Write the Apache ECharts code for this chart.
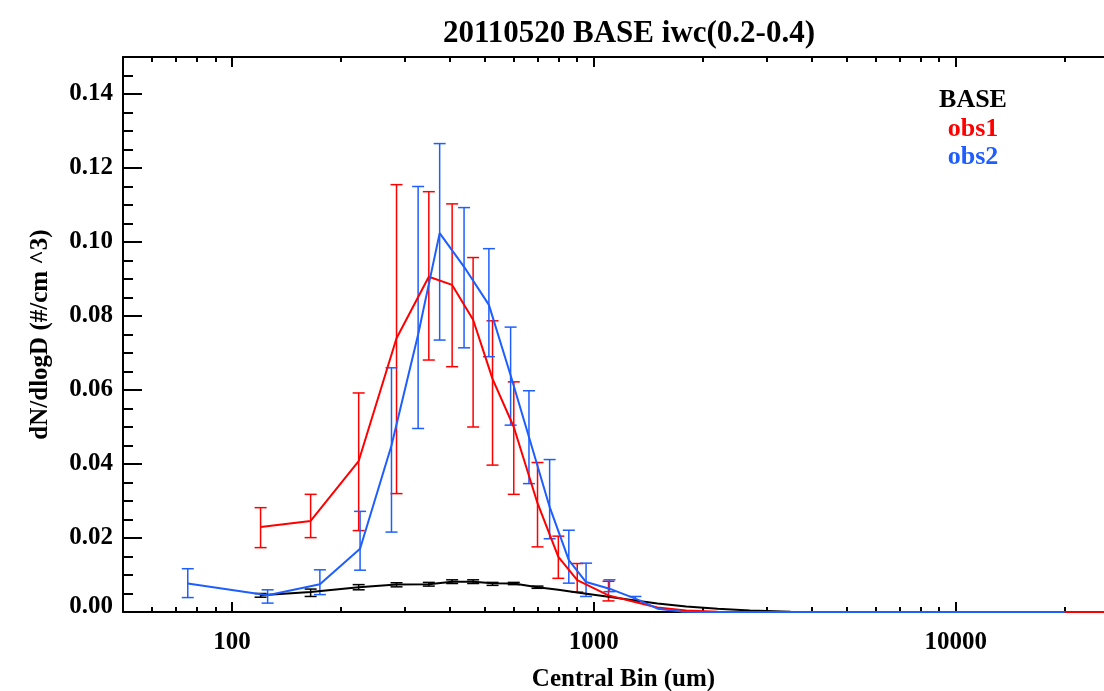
<!DOCTYPE html>
<html><head><meta charset="utf-8">
<script src="https://cdn.jsdelivr.net/npm/echarts@6/dist/echarts.min.js"></script>
<style>html,body{margin:0;padding:0;background:#fff}#c{width:1104px;height:691px}</style>
</head><body><div id="c"></div>
<script>
// ---- text ----
const chartTitle = '20110520 BASE iwc(0.2-0.4)';
const xName = 'Central Bin (um)';
const yName = 'dN/dlogD (#/cm ^3)';
const legendNames = ['BASE', 'obs1', 'obs2'];

// ---- ticks ----
const xMajorTicks = [100, 1000, 10000];
const xMinorTicks = [60, 70, 80, 90, 200, 300, 400, 500, 600, 700, 800, 900,
  2000, 3000, 4000, 5000, 6000, 7000, 8000, 9000, 20000];
const yMajorTicks = [0, 0.02, 0.04, 0.06, 0.08, 0.10, 0.12, 0.14];
const yMinorTicks = [0.005, 0.01, 0.015, 0.025, 0.03, 0.035, 0.045, 0.05, 0.055,
  0.065, 0.07, 0.075, 0.085, 0.09, 0.095, 0.105, 0.11, 0.115, 0.125, 0.13, 0.135, 0.145];

// ---- obs1 (red) ----
const obs1X  = [120, 165, 224, 285, 350, 406, 464, 525, 601, 699, 798, 900, 1098, 1300, 1500, 1800, 2200, 2700, 3500, 5000, 8000, 12000, 18000, 25700];
const obs1Y  = [0.0230, 0.0246, 0.0408, 0.0740, 0.0906, 0.0884, 0.0790, 0.0630, 0.0500, 0.0294, 0.0149, 0.0086, 0.0045, 0.0027, 0.0012, 0.0004, 0.0001, 0, 0, 0, 0, 0, 0, 0];
const obs1Lo = [0.0174, 0.0201, 0.0220, 0.0320, 0.0681, 0.0663, 0.0500, 0.0397, 0.0318, 0.0176, 0.0091, 0.0054, 0.0030];
const obs1Hi = [0.0282, 0.0318, 0.0592, 0.1155, 0.1136, 0.1103, 0.0958, 0.0787, 0.0622, 0.0404, 0.0205, 0.0131, 0.0083];

// ---- obs2 (blue) ----
const obs2X  = [75.5, 125.5, 175, 226, 276, 327, 375, 438, 513, 589, 662, 755, 853, 952, 1105, 1303, 1500, 1750, 2000, 3000, 5000, 8000, 12000, 20000];
const obs2Y  = [0.0077, 0.0045, 0.0075, 0.0171, 0.0450, 0.0750, 0.1024, 0.0933, 0.0830, 0.0640, 0.0473, 0.0284, 0.0140, 0.0081, 0.0063, 0.0036, 0.0009, 0.0001, 0, 0, 0, 0, 0, 0];
const obs2Lo = [0.0039, 0.0024, 0.0047, 0.0113, 0.0216, 0.0496, 0.0735, 0.0714, 0.0690, 0.0505, 0.0347, 0.0198, 0.0078, 0.0042, 0.0055, 0.0031];
const obs2Hi = [0.0117, 0.0060, 0.0114, 0.0272, 0.0660, 0.1150, 0.1266, 0.1093, 0.0982, 0.0770, 0.0598, 0.0412, 0.0221, 0.0132, 0.0087, 0.0042];

// ---- BASE (black) ----
const baseX  = obs1X;
const baseY  = [0.0045, 0.0054, 0.0067, 0.0074, 0.0075, 0.0082, 0.0082, 0.0078, 0.0077, 0.0067, 0.0060, 0.0053, 0.0041, 0.0031, 0.0023, 0.0015, 0.0009, 0.0004, 0.0001, 0, 0, 0, 0, 0];
const baseLo = [0.0040, 0.0042, 0.0060, 0.0068, 0.0070, 0.0077, 0.0077, 0.0072, 0.0074, 0.0064];
const baseHi = [0.0050, 0.0062, 0.0074, 0.0079, 0.0080, 0.0087, 0.0087, 0.0080, 0.0080, 0.0070];

const RED = '#ff0000', BLUE = '#1e5eff', BLACK = '#000000';
const FONT = '"Liberation Serif", "Times New Roman", serif';

function pairs(xs, ys) { return xs.map((x, i) => [x, ys[i]]); }
function errs(xs, lo, hi) { return lo.map((l, i) => [xs[i], l, hi[i]]); }

function errSeries(data, color) {
  return {
    type: 'custom', xAxisIndex: 0, yAxisIndex: 0, data: data, silent: true, z: 3,
    encode: { x: 0, y: [1, 2] },
    renderItem: function (params, api) {
      const x = api.value(0);
      const lo = api.coord([x, api.value(1)]);
      const hi = api.coord([x, api.value(2)]);
      const w = 6;
      const st = { stroke: color, lineWidth: 1.5 };
      return { type: 'group', children: [
        { type: 'line', shape: { x1: lo[0], y1: lo[1], x2: hi[0], y2: hi[1] }, style: st },
        { type: 'line', shape: { x1: lo[0] - w, y1: lo[1], x2: lo[0] + w, y2: lo[1] }, style: st },
        { type: 'line', shape: { x1: hi[0] - w, y1: hi[1], x2: hi[0] + w, y2: hi[1] }, style: st }
      ]};
    }
  };
}

const labelStyle = { fontFamily: FONT, fontWeight: 'bold', fontSize: 25, color: '#000' };

function xAxisDef(pos, ticks, len, showLine, showLabel) {
  return {
    type: 'log', logBase: 10, min: 50, max: 25700, position: pos,
    axisLine: { show: showLine, lineStyle: { color: '#000', width: 2 } },
    axisTick: { show: true, inside: true, length: len, customValues: ticks, lineStyle: { color: '#000', width: 2 } },
    axisLabel: showLabel ? Object.assign({ customValues: ticks, margin: 18, formatter: v => String(Math.round(v)) }, labelStyle) : { show: false },
    splitLine: { show: false }, minorTick: { show: false }
  };
}

const chart = echarts.init(document.getElementById('c'), null, { renderer: 'canvas' });
const xMain = xAxisDef('bottom', xMajorTicks, 10, true, true);
xMain.name = xName;
xMain.nameLocation = 'middle';
xMain.nameGap = 55;
xMain.nameTextStyle = { fontFamily: FONT, fontWeight: 'bold', fontSize: 25, color: '#000', padding: [0, 0, 0, 20] };

const legendYs = [100, 129, 157];
const legendColors = [BLACK, RED, BLUE];

chart.setOption({
  animation: false,
  backgroundColor: '#fff',
  title: {
    text: chartTitle, left: 624, top: 13, textAlign: 'center',
    textStyle: { fontFamily: FONT, fontWeight: 'bold', fontSize: 31, color: '#000' }
  },
  grid: { left: 123, top: 57, right: 0, bottom: 79, containLabel: false, outerBoundsMode: 'none' },
  xAxis: [
    xMain,
    xAxisDef('bottom', xMinorTicks, 5, false, false),
    xAxisDef('top', xMajorTicks, 10, true, false),
    xAxisDef('top', xMinorTicks, 5, false, false)
  ],
  yAxis: [
    {
      type: 'value', min: 0, max: 0.15, position: 'left',
      name: yName, nameLocation: 'middle', nameGap: 70,
      nameTextStyle: { fontFamily: FONT, fontWeight: 'bold', fontSize: 25, color: '#000' },
      axisLine: { show: true, lineStyle: { color: '#000', width: 2 } },
      axisTick: { show: true, inside: true, length: 19, customValues: yMajorTicks, lineStyle: { color: '#000', width: 2 } },
      axisLabel: Object.assign({
        customValues: yMajorTicks, margin: 10,
        formatter: v => v === 0 ? '{z|0.00}' : v.toFixed(2),
        rich: { z: { fontFamily: FONT, fontWeight: 'bold', fontSize: 25, color: '#000', padding: [0, 0, 11, 0] } }
      }, labelStyle),
      splitLine: { show: false }
    },
    {
      type: 'value', min: 0, max: 0.15, position: 'left',
      axisLine: { show: false },
      axisTick: { show: true, inside: true, length: 10, customValues: yMinorTicks, lineStyle: { color: '#000', width: 2 } },
      axisLabel: { show: false }, splitLine: { show: false }
    }
  ],
  graphic: legendNames.map((n, i) => ({
    type: 'text', x: 973, y: legendYs[i], z: 10,
    style: { text: n, textAlign: 'center', textVerticalAlign: 'middle', fill: legendColors[i], font: 'bold 26px ' + FONT }
  })),
  series: [
    { name: 'BASE', type: 'line', data: pairs(baseX, baseY), showSymbol: false, lineStyle: { color: BLACK, width: 2 }, itemStyle: { color: BLACK }, z: 4 },
    errSeries(errs(baseX, baseLo, baseHi), BLACK),
    { name: 'obs1', type: 'line', data: pairs(obs1X, obs1Y), showSymbol: false, lineStyle: { color: RED, width: 2 }, itemStyle: { color: RED }, z: 5 },
    errSeries(errs(obs1X, obs1Lo, obs1Hi), RED),
    { name: 'obs2', type: 'line', data: pairs(obs2X, obs2Y), showSymbol: false, lineStyle: { color: BLUE, width: 2 }, itemStyle: { color: BLUE }, z: 6 },
    errSeries(errs(obs2X, obs2Lo, obs2Hi), BLUE)
  ]
});
</script></body></html>
